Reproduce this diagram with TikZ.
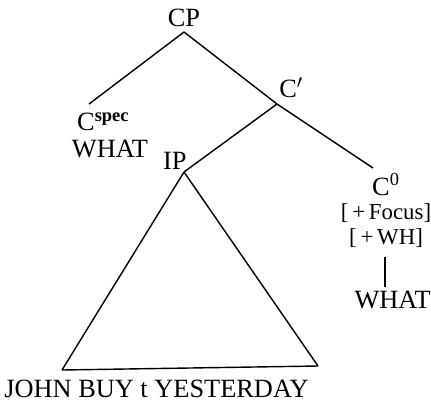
\documentclass[tikz,border=0pt]{standalone}
\usepackage{fontspec}
\setmainfont{Liberation Serif}
\usepackage{tikz}

\tikzset{
  lab/.style={inner sep=0pt, font=\fontsize{15}{17}\selectfont},
  feat/.style={inner sep=0pt, font=\fontsize{13}{15}\selectfont},
  pt/.style={inner sep=0pt, outer sep=0pt, minimum size=0pt},
  branch/.style={line width=0.8pt, line join=round}
}

\begin{document}
\begin{tikzpicture}[x=0.02cm, y=-0.02cm]
  \useasboundingbox (0,0) rectangle (431,408);

  % --- branching points ---
  \node[pt] (cp)    at (184, 32) {};
  \node[pt] (spec)  at ( 89,104) {};
  \node[pt] (cbar)  at (277,104) {};
  \node[pt] (ip)    at (184,172) {};
  \node[pt] (czero) at (373,168) {};
  \node[pt] (ipl)   at ( 62,370) {};
  \node[pt] (ipr)   at (318,366) {};
  \node[pt] (whtop) at (385,257) {};
  \node[pt] (whbot) at (385,287) {};

  % --- labels ---
  \node[lab, anchor=base] (cplab) at (184, 27) {CP};
  \node[lab, anchor=base west] (cbarlab) at (279, 98) {C$'$};
  \node[lab, anchor=base] (speclab) at (86,131) {C\rlap{\textsuperscript{\textbf{spec}}}};
  \node[lab, anchor=base] (whatl) at (110,157) {WHAT};
  \node[lab, anchor=base east] (iplab) at (187,170) {IP};
  \node[lab, anchor=base] (czerolab) at (381,195) {C\rlap{\textsuperscript{0}}};
  \node[feat, anchor=base] (focus) at (386,219) {[\,+\,Focus]};
  \node[feat, anchor=base] (wh) at (386,244) {[\,+\,WH]};
  \node[lab, anchor=base east] (whatr) at (431,308) {WHAT};
  \node[lab, anchor=base west] (john) at (4,397) {JOHN BUY t YESTERDAY};

  % --- tree ---
  \draw[branch] (spec) -- (cp) -- (cbar);
  \draw[branch] (ip) -- (cbar) -- (czero);
  \draw[branch] (ip) -- (ipl) -- (ipr) -- (ip);
  \draw[branch] (whtop) -- (whbot);
\end{tikzpicture}
\end{document}
